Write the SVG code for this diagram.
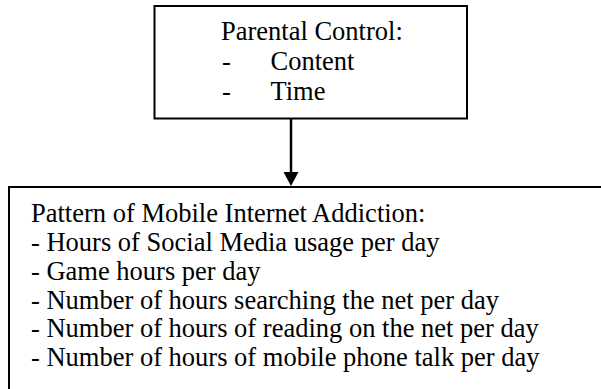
<svg xmlns="http://www.w3.org/2000/svg" width="601" height="389" viewBox="0 0 601 389">
  <style>
    .box { fill: #ffffff; stroke: #000000; stroke-width: 2; }
    .open { fill: none; stroke: #000000; stroke-width: 2; }
    .label { font-family: 'Liberation Serif', 'Times New Roman', Times, 'DejaVu Serif', serif; font-size: 26.5px; fill: #000000; }
    .link { stroke: #000000; stroke-width: 2.5; fill: none; }
  </style>
  <rect width="601" height="389" fill="#ffffff"/>

  <!-- Parental control box -->
  <g id="parental-control">
    <rect class="box" x="154.5" y="6" width="312.5" height="112.5"/>
    <text class="label" x="221" y="40">Parental Control:</text>
    <text class="label" x="222" y="70">-</text>
    <text class="label" x="270.5" y="70">Content</text>
    <text class="label" x="222" y="99.5">-</text>
    <text class="label" x="270.5" y="99.5">Time</text>
  </g>

  <!-- Addiction pattern box (runs past the right and bottom edges) -->
  <g id="addiction-pattern">
    <path class="open" d="M9,390 V187 H602"/>
    <text class="label" x="31" y="222">Pattern of Mobile Internet Addiction:</text>
    <text class="label" x="31" y="251">- Hours of Social Media usage per day</text>
    <text class="label" x="31" y="280">- Game hours per day</text>
    <text class="label" x="31" y="308.5">- Number of hours searching the net per day</text>
    <text class="label" x="31" y="337">- Number of hours of reading on the net per day</text>
    <text class="label" x="31" y="366">- Number of hours of mobile phone talk per day</text>
  </g>

  <!-- Connector -->
  <g id="connectors">
    <line class="link" x1="291" y1="119" x2="291" y2="173"/>
    <polygon points="283.5,172 298.5,172 291,186" fill="#000000"/>
  </g>
</svg>
